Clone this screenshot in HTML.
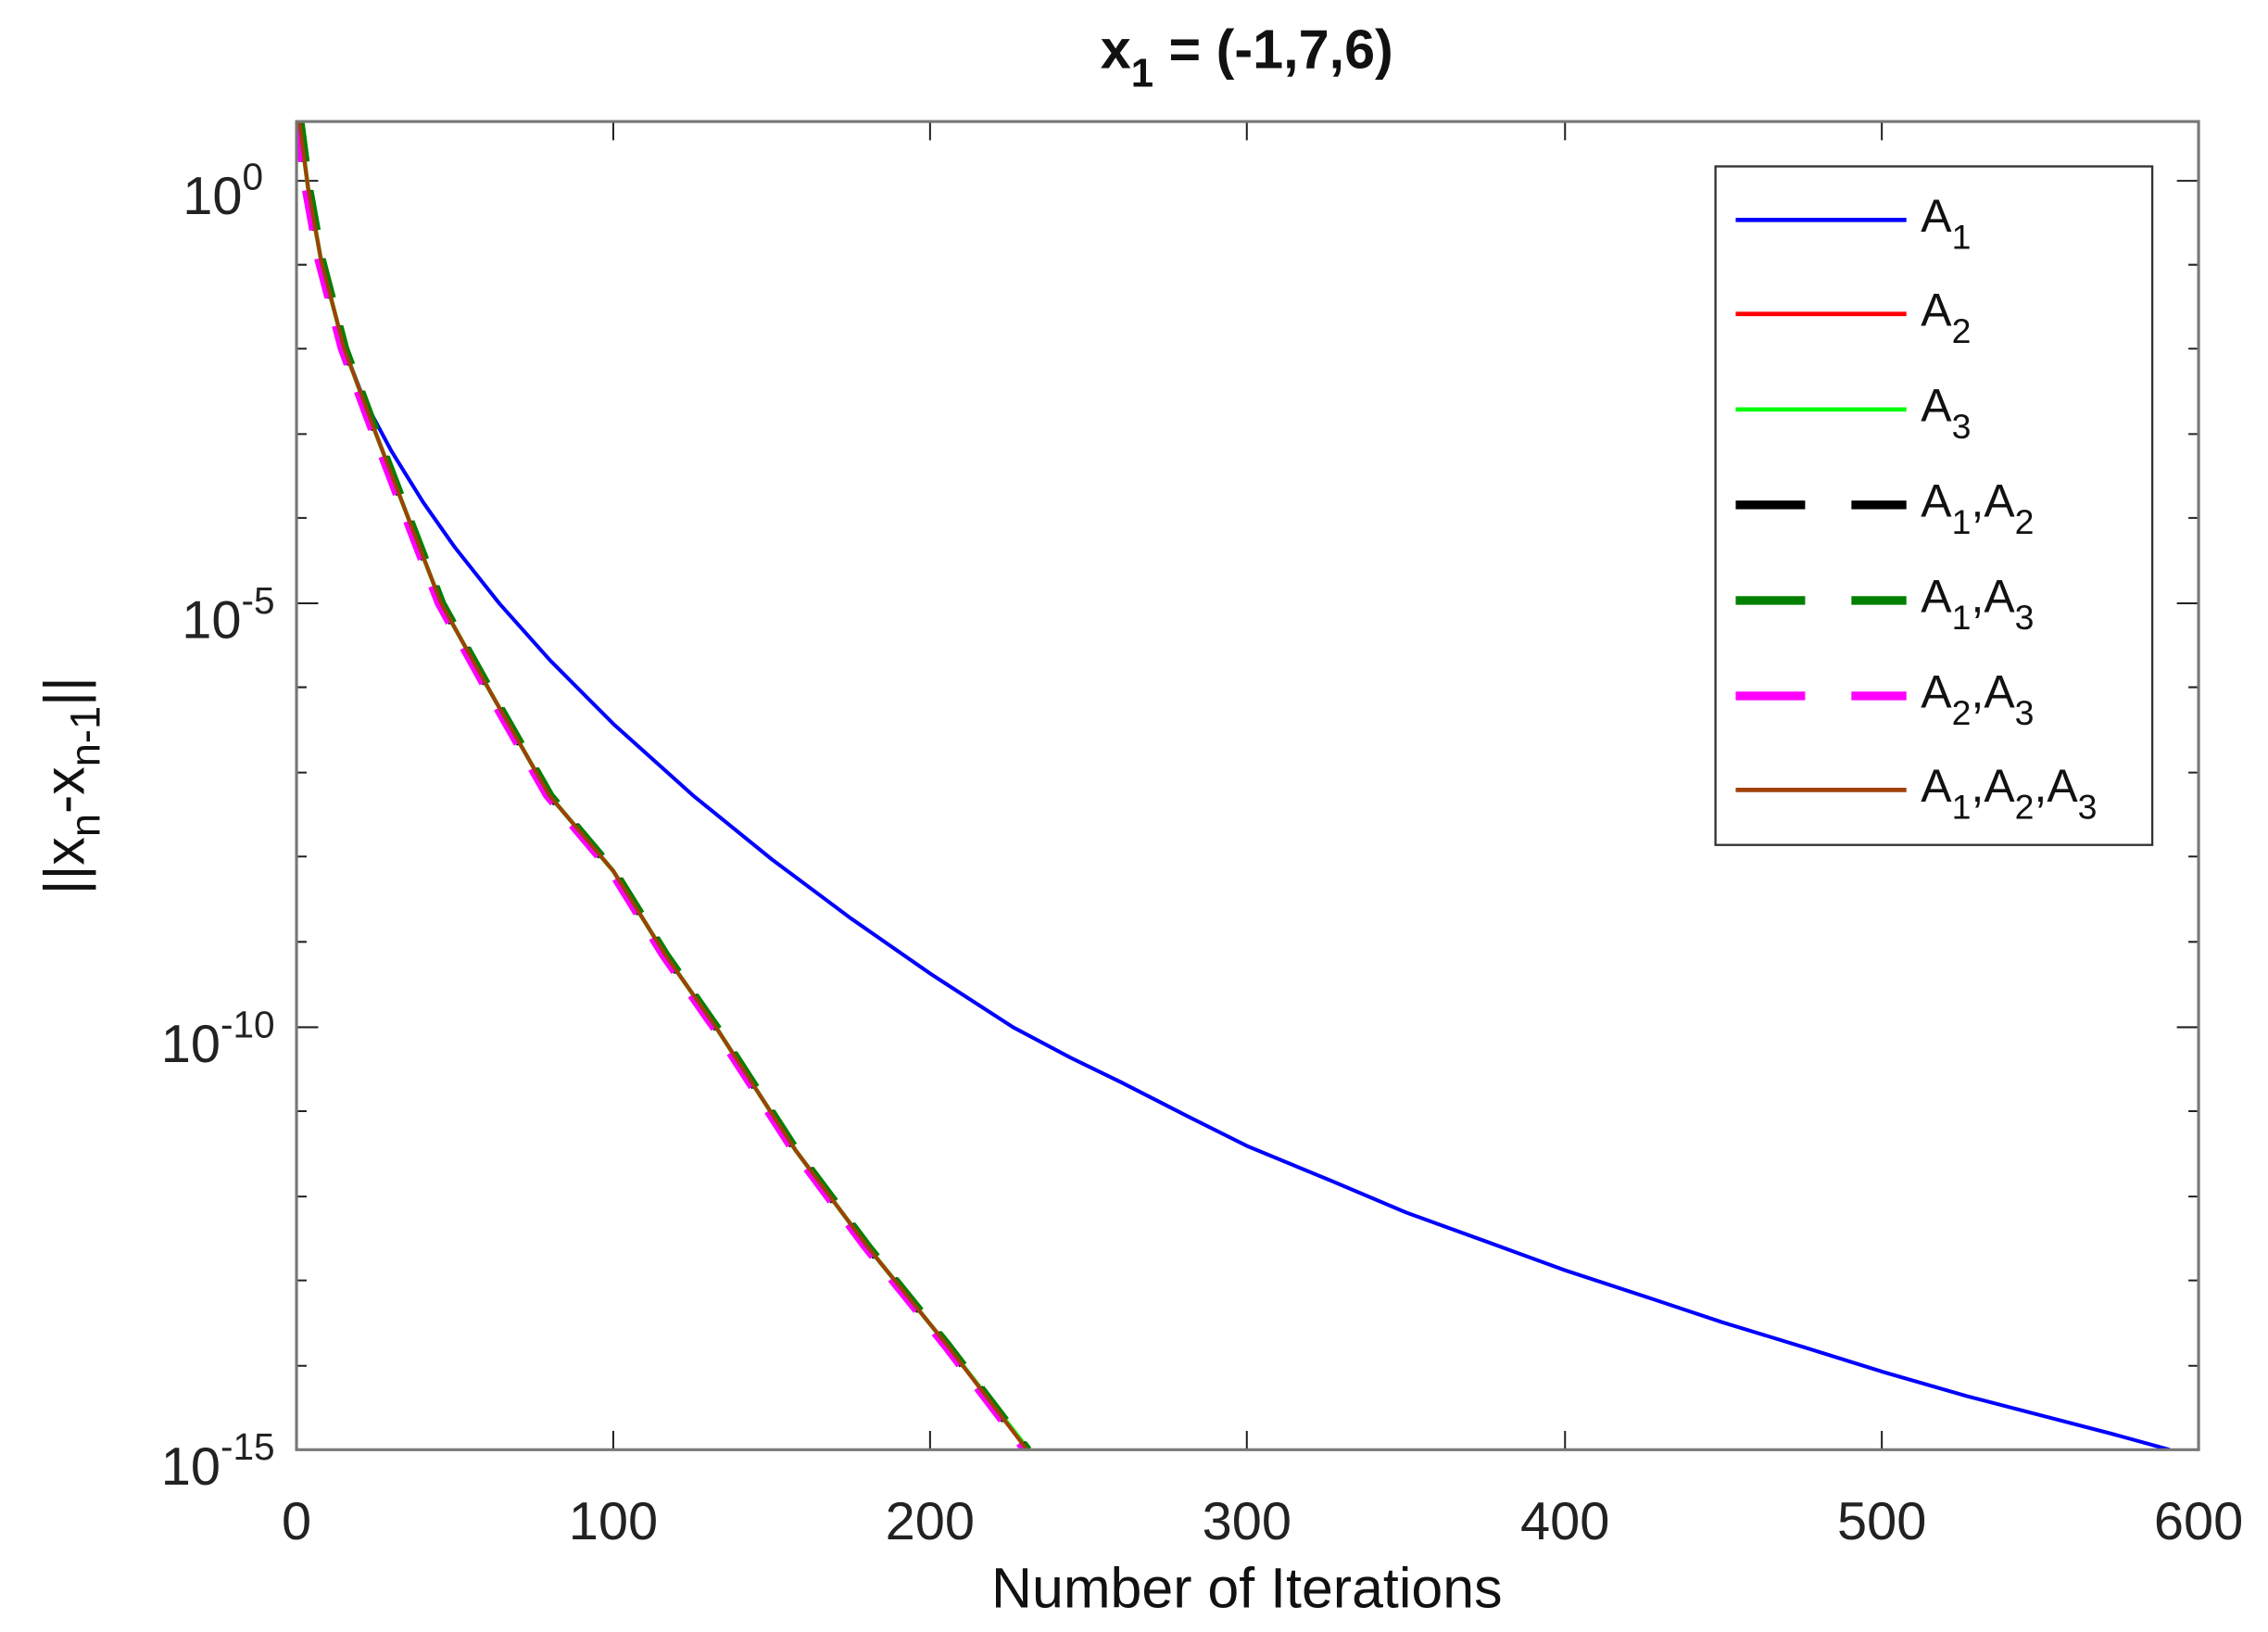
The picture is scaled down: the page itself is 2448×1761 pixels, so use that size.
<!DOCTYPE html>
<html><head><meta charset="utf-8"><style>html,body{margin:0;padding:0;background:#fff}svg{display:block}</style></head>
<body>
<svg width="2448" height="1761" viewBox="0 0 1568 1128" preserveAspectRatio="none" xmlns="http://www.w3.org/2000/svg" font-family="'Liberation Sans',sans-serif">
<rect width="1568" height="1128" fill="#fff"/>
<defs><clipPath id="c"><rect x="205" y="84" width="1315" height="918"/></clipPath></defs>
<g stroke="#222" stroke-width="1.3">
<path d="M205 1002V989M424 1002V989M643 1002V989M862 1002V989M1082 1002V989M1301 1002V989M1520 1002V989"/>
<path d="M205 84V97M424 84V97M643 84V97M862 84V97M1082 84V97M1301 84V97M1520 84V97"/>
<path d="M205 125H220M205 417H220M205 710H220M205 1002H220M1520 125H1505M1520 417H1505M1520 710H1505M1520 1002H1505"/>
<path d="M205 183H212M205 241H212M205 300H212M205 358H212M205 475H212M205 534H212M205 592H212M205 651H212M205 768H212M205 827H212M205 885H212M205 944H212"/>
<path d="M1520 183H1513M1520 241H1513M1520 300H1513M1520 358H1513M1520 475H1513M1520 534H1513M1520 592H1513M1520 651H1513M1520 768H1513M1520 827H1513M1520 885H1513M1520 944H1513"/>
</g>
<g clip-path="url(#c)" fill="none" stroke-linejoin="round">
<polyline stroke="#0000ff" stroke-width="2.6" points="207,84 213,130 222,180 238,241 252,277 270.8,312.1 292.7,347.4 314.6,378.5 345.3,417.2 380.4,456.5 424.2,500.5 479,549.7 533.8,594.1 588.6,635 643.4,673.1 700.4,710 740,731 775,748 820,771 862,792 920,816 972,838 1030,859 1082,878 1140,897 1191,914 1250,932 1301,948 1360,965 1410,978 1460,991 1500,1002"/>
<polyline stroke="#00ff00" stroke-width="3" points="207,84 213,130 222,180 238,241 260,300 283,360 305,417 340,480 380,550 424,602 460,660 495,710 550,795 600,862 655,930 711,1002"/>
<polyline stroke="#ff0000" stroke-width="2.5" points="207,84 213,130 222,180 238,241 260,300 283,360 305,417 340,480 380,550 424,602 460,660 495,710 550,795 600,862 655,930 710,1002"/>
<polyline stroke="#000" stroke-width="5" stroke-dasharray="28,20" points="207,84 213,130 222,180 238,241 260,300 283,360 305,417 340,480 380,550 424,602 460,660 495,710 550,795 600,862 655,930 710,1002"/>
<polyline stroke="#008000" stroke-width="5" stroke-dasharray="28,20" points="208,84 214,130 223,180 239,241 261,300 284,360 306,417 341,480 381,550 425,602 461,660 496,710 551,795 601,862 656,930 711,1002"/>
<polyline stroke="#ff00ff" stroke-width="5" stroke-dasharray="28,20" points="205,84 211,130 220,180 236,241 258,300 281,360 303,417 338,480 378,550 422,602 458,660 493,710 548,795 598,862 653,930 708,1002"/>
<polyline stroke="#a0400a" stroke-width="2.6" points="207,84 213,130 222,180 238,241 260,300 283,360 305,417 340,480 380,550 424,602 460,660 495,710 550,795 600,862 655,930 710,1002"/>
</g>
<rect x="205" y="84" width="1315" height="918" fill="none" stroke="#777" stroke-width="2"/>
<rect x="1186" y="115" width="302" height="469" fill="#fff" stroke="#333" stroke-width="1.5"/>
<g stroke-width="3">
<line x1="1200" y1="152" x2="1318" y2="152" stroke="#0000ff"/>
<line x1="1200" y1="217" x2="1318" y2="217" stroke="#ff0000"/>
<line x1="1200" y1="283" x2="1318" y2="283" stroke="#00ff00"/>
<line x1="1200" y1="349" x2="1318" y2="349" stroke="#000" stroke-width="6" stroke-dasharray="48,32"/>
<line x1="1200" y1="415" x2="1318" y2="415" stroke="#008000" stroke-width="6" stroke-dasharray="48,32"/>
<line x1="1200" y1="481" x2="1318" y2="481" stroke="#ff00ff" stroke-width="6" stroke-dasharray="48,32"/>
<line x1="1200" y1="546" x2="1318" y2="546" stroke="#a0400a"/>
</g>
<g font-size="32" fill="#111">
<text x="1328" y="160">A<tspan font-size="24" dy="12">1</tspan></text>
<text x="1328" y="225">A<tspan font-size="24" dy="12">2</tspan></text>
<text x="1328" y="291">A<tspan font-size="24" dy="12">3</tspan></text>
<text x="1328" y="357">A<tspan font-size="24" dy="12">1</tspan><tspan dy="-12">,A</tspan><tspan font-size="24" dy="12">2</tspan></text>
<text x="1328" y="423">A<tspan font-size="24" dy="12">1</tspan><tspan dy="-12">,A</tspan><tspan font-size="24" dy="12">3</tspan></text>
<text x="1328" y="489">A<tspan font-size="24" dy="12">2</tspan><tspan dy="-12">,A</tspan><tspan font-size="24" dy="12">3</tspan></text>
<text x="1328" y="554">A<tspan font-size="24" dy="12">1</tspan><tspan dy="-12">,A</tspan><tspan font-size="24" dy="12">2</tspan><tspan dy="-12">,A</tspan><tspan font-size="24" dy="12">3</tspan></text>
</g>
<g font-size="37" fill="#222" text-anchor="middle">
<text x="205" y="1064">0</text><text x="424" y="1064">100</text><text x="643" y="1064">200</text><text x="862" y="1064">300</text><text x="1082" y="1064">400</text><text x="1301" y="1064">500</text><text x="1520" y="1064">600</text>
</g>
<g font-size="37" fill="#222" text-anchor="end">
<text x="182" y="148">10<tspan font-size="26" dy="-17">0</tspan></text>
<text x="190" y="441">10<tspan font-size="26" dy="-17">-5</tspan></text>
<text x="190" y="734">10<tspan font-size="26" dy="-17">-10</tspan></text>
<text x="190" y="1026">10<tspan font-size="26" dy="-17">-15</tspan></text>
</g>
<text x="862" y="1111" font-size="39" fill="#111" text-anchor="middle">Number of Iterations</text>
<text transform="translate(58,543) rotate(-90)" font-size="39" fill="#111" text-anchor="middle">||x<tspan font-size="29" dy="11">n</tspan><tspan dy="-11">-x</tspan><tspan font-size="29" dy="11">n-1</tspan><tspan dy="-11">||</tspan></text>
<text x="862" y="47" font-size="38" font-weight="bold" fill="#111" text-anchor="middle">x<tspan font-size="28" dy="13">1</tspan><tspan dy="-13"> = (-1,7,6)</tspan></text>
</svg>
</body></html>
